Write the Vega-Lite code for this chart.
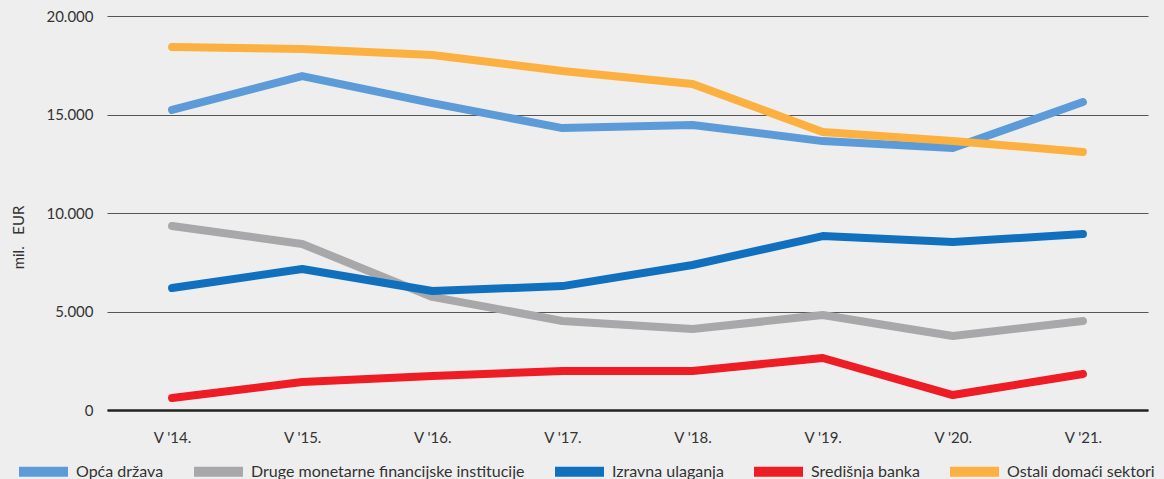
{
  "$schema": "https://vega.github.io/schema/vega-lite/v6.json",
  "width": 1041,
  "height": 394,
  "autosize": {"type": "none"},
  "padding": {"left": 107, "top": 16, "right": 16, "bottom": 69},
  "background": "#eeeeee",
  "config": {
    "view": {"stroke": null},
    "font": "Lato",
    "axis": {"labelFont": "Lato", "titleFont": "Lato", "labelColor": "#333333", "titleColor": "#333333"},
    "legend": {"labelFont": "Lato"}
  },
  "data": {
    "values": [
      {"g": "Opća država", "t": "V '14.", "v": 15230},
      {"g": "Opća država", "t": "V '15.", "v": 16950},
      {"g": "Opća država", "t": "V '16.", "v": 15580},
      {"g": "Opća država", "t": "V '17.", "v": 14310},
      {"g": "Opća država", "t": "V '18.", "v": 14470},
      {"g": "Opća država", "t": "V '19.", "v": 13650},
      {"g": "Opća država", "t": "V '20.", "v": 13300},
      {"g": "Opća država", "t": "V '21.", "v": 15630},
      {"g": "Druge monetarne financijske institucije", "t": "V '14.", "v": 9340},
      {"g": "Druge monetarne financijske institucije", "t": "V '15.", "v": 8430},
      {"g": "Druge monetarne financijske institucije", "t": "V '16.", "v": 5740},
      {"g": "Druge monetarne financijske institucije", "t": "V '17.", "v": 4520},
      {"g": "Druge monetarne financijske institucije", "t": "V '18.", "v": 4110},
      {"g": "Druge monetarne financijske institucije", "t": "V '19.", "v": 4820},
      {"g": "Druge monetarne financijske institucije", "t": "V '20.", "v": 3760},
      {"g": "Druge monetarne financijske institucije", "t": "V '21.", "v": 4520},
      {"g": "Izravna ulaganja", "t": "V '14.", "v": 6190},
      {"g": "Izravna ulaganja", "t": "V '15.", "v": 7160},
      {"g": "Izravna ulaganja", "t": "V '16.", "v": 6040},
      {"g": "Izravna ulaganja", "t": "V '17.", "v": 6290},
      {"g": "Izravna ulaganja", "t": "V '18.", "v": 7360},
      {"g": "Izravna ulaganja", "t": "V '19.", "v": 8830},
      {"g": "Izravna ulaganja", "t": "V '20.", "v": 8530},
      {"g": "Izravna ulaganja", "t": "V '21.", "v": 8930},
      {"g": "Središnja banka", "t": "V '14.", "v": 610},
      {"g": "Središnja banka", "t": "V '15.", "v": 1420},
      {"g": "Središnja banka", "t": "V '16.", "v": 1730},
      {"g": "Središnja banka", "t": "V '17.", "v": 1980},
      {"g": "Središnja banka", "t": "V '18.", "v": 1980},
      {"g": "Središnja banka", "t": "V '19.", "v": 2640},
      {"g": "Središnja banka", "t": "V '20.", "v": 760},
      {"g": "Središnja banka", "t": "V '21.", "v": 1830},
      {"g": "Ostali domaći sektori", "t": "V '14.", "v": 18430},
      {"g": "Ostali domaći sektori", "t": "V '15.", "v": 18330},
      {"g": "Ostali domaći sektori", "t": "V '16.", "v": 18020},
      {"g": "Ostali domaći sektori", "t": "V '17.", "v": 17210},
      {"g": "Ostali domaći sektori", "t": "V '18.", "v": 16550},
      {"g": "Ostali domaći sektori", "t": "V '19.", "v": 14110},
      {"g": "Ostali domaći sektori", "t": "V '20.", "v": 13650},
      {"g": "Ostali domaći sektori", "t": "V '21.", "v": 13100}
    ]
  },
  "mark": {"type": "line", "strokeWidth": 8, "strokeCap": "round", "strokeJoin": "round"},
  "encoding": {
    "x": {
      "field": "t", "type": "ordinal", "sort": null,
      "scale": {"type": "point", "padding": 0.5},
      "axis": {
        "title": null, "labelAngle": 0, "labelFontSize": 15, "labelPadding": 20,
        "ticks": false, "domain": true, "domainColor": "#222222", "domainWidth": 2.5,
        "grid": false
      }
    },
    "y": {
      "field": "v", "type": "quantitative",
      "scale": {"domain": [0, 20000], "nice": false},
      "axis": {
        "values": [0, 5000, 10000, 15000, 20000],
        "format": ",d",
        "labelExpr": "replace(datum.label, ',', '.')",
        "labelFontSize": 15, "labelPadding": 14,
        "ticks": false, "domain": false,
        "grid": true, "gridColor": "#555555", "gridWidth": 1,
        "title": "mil.\u00a0\u00a0\u00a0EUR", "titleFontSize": 15, "titleFontWeight": "normal",
        "titleX": -89, "titleY": 221, "titleAngle": 270, "titleAlign": "center", "titleBaseline": "middle"
      }
    },
    "color": {
      "field": "g", "type": "nominal",
      "scale": {
        "domain": ["Opća država", "Druge monetarne financijske institucije", "Izravna ulaganja", "Središnja banka", "Ostali domaći sektori"],
        "range": ["#5d9bd8", "#a8a8aa", "#1170bd", "#ee1c25", "#fbb040"]
      },
      "legend": {
        "title": null, "orient": "none", "direction": "horizontal",
        "legendX": -93, "legendY": 426,
        "symbolType": "stroke", "symbolSize": 2401, "symbolStrokeWidth": 10,
        "labelFontSize": 16, "labelColor": "#333333", "labelOffset": 3,
        "columnPadding": 10, "labelLimit": 400
      }
    }
  }
}
